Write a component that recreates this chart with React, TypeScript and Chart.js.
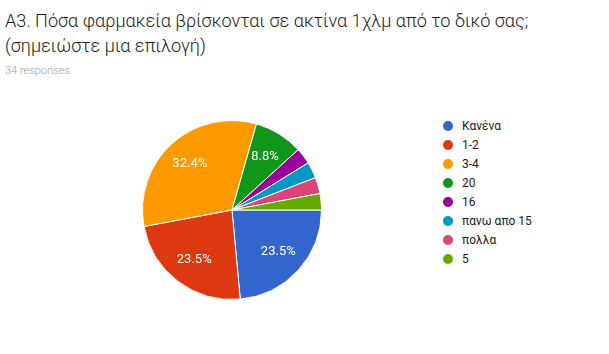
import React, { useEffect, useRef } from "react";
import { Chart, registerables } from "chart.js";
Chart.register(...registerables);

const titleLines = ["Α3. Πόσα φαρμακεία βρίσκονται σε ακτίνα 1χλμ από το δικό σας;", "(σημειώστε μια επιλογή)"];
const subtitle = "34 responses";
const categories = ["Κανένα", "1-2", "3-4", "20", "16", "πανω απο 15", "πολλα", "5"];
const counts = [8, 8, 11, 3, 1, 1, 1, 1];
const colors = ["#3366cc", "#dc3912", "#ff9900", "#109618", "#990099", "#0099c6", "#dd4477", "#66aa00"];

const FONT = "Roboto, 'Noto Sans', Arial, sans-serif";

const labelPlugin = {
  id: "pctLabels",
  afterDatasetsDraw(chart: any) {
    const ctx = chart.ctx;
    const meta = chart.getDatasetMeta(0);
    const data = chart.data.datasets[0].data as number[];
    const total = data.reduce((a, b) => a + b, 0);
    ctx.save();
    ctx.fillStyle = "#ffffff";
    ctx.font = "13px " + FONT;
    ctx.textAlign = "center";
    ctx.textBaseline = "middle";
    meta.data.forEach((arc: any, i: number) => {
      const p = data[i] / total;
      if (p < 0.05) return;
      const { x, y, startAngle, endAngle, outerRadius } = arc.getProps(["x", "y", "startAngle", "endAngle", "outerRadius"], true);
      const a = (startAngle + endAngle) / 2;
      const r = outerRadius * 0.7;
      ctx.fillText((p * 100).toFixed(1) + "%", x + Math.cos(a) * r, y + Math.sin(a) * r);
    });
    ctx.restore();
  },
};

export default function App() {
  const ref = useRef<HTMLCanvasElement>(null);
  useEffect(() => {
    const chart = new Chart(ref.current!, {
      type: "pie",
      data: {
        labels: categories,
        datasets: [{ data: counts, backgroundColor: colors, borderColor: "#ffffff", borderWidth: 1 }],
      },
      options: {
        responsive: false,
        maintainAspectRatio: false,
        animation: false,
        rotation: 90,
        layout: { padding: 10 },
        plugins: { legend: { display: false }, tooltip: { enabled: false } },
      },
      plugins: [labelPlugin],
    });
    return () => chart.destroy();
  }, []);

  return (
    <div style={{ position: "absolute", left: 0, top: 0, width: 609, height: 354, background: "#fff", fontFamily: FONT }}>
      <div style={{ position: "absolute", left: 5, top: 8, fontSize: 18.1, fontWeight: 300, lineHeight: "25px", color: "#212121", whiteSpace: "nowrap" }}>
        {titleLines.map((l, i) => (
          <div key={i}>{l}</div>
        ))}
      </div>
      <div style={{ position: "absolute", left: 5, top: 64, fontSize: 11, fontWeight: 300, lineHeight: "14px", color: "#9e9e9e" }}>{subtitle}</div>
      <canvas ref={ref} width={200} height={200} style={{ position: "absolute", left: 132, top: 110, width: 200, height: 200 }} />
      <div style={{ position: "absolute", left: 443, top: 116 }}>
        {categories.map((c, i) => (
          <div key={i} style={{ display: "flex", alignItems: "center", height: 19, fontSize: 12, color: "#222" }}>
            <span style={{ display: "inline-block", width: 10, height: 10, borderRadius: 5, background: colors[i], marginRight: 9 }} />
            <span>{c}</span>
          </div>
        ))}
      </div>
    </div>
  );
}
